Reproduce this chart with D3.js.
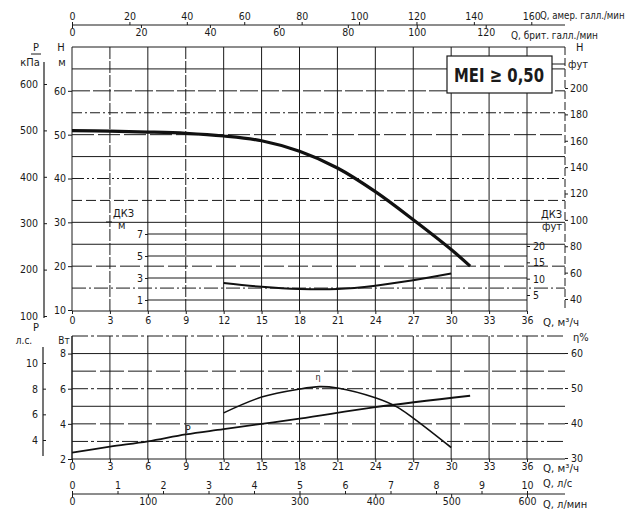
<!DOCTYPE html>
<html><head><meta charset="utf-8">
<script src="https://cdn.jsdelivr.net/npm/d3@7"></script>
<style>
body{margin:0;background:#fff}
text{font-family:"Liberation Sans Narrow","DejaVu Sans Condensed","Liberation Sans",Arial,sans-serif;font-size:11px;fill:#1a1a1a}
</style>
</head><body><svg id="c" width="633" height="510"></svg>
<script>
// ---- data ----
const qTicks = [0,3,6,9,12,15,18,21,24,27,30,33,36];
const usGpmTicks = [0,20,40,60,80,100,120,140,160];
const ukGpmTicks = [0,20,40,60,80,100,120];
const kpaTicks = [100,200,300,400,500,600];
const hTicks = [10,20,30,40,50,60];
const hGrid = [15,20,25,30,35,40,45,50,55,60,65];
const ftTicks = [40,60,80,100,120,140,160,180,200];
const npshMTicks = [1,3,5,7];
const npshFtTicks = [5,10,15,20];
const kwTicks = [2,4,6,8];
const kwGrid = [2,3,4,5,6,7,8,9];
const hpTicks = [4,6,8,10];
const etaTicks = [30,40,50,60];
const lsTicks = [0,1,2,3,4,5,6,7,8,9,10];
const lminTicks = [0,100,200,300,400,500,600];

const qHead = [0,3,6,9,12,15,18,21,24,27,30,31.5];
const hHead = [50.9,50.8,50.6,50.3,49.7,48.6,46.2,42.4,37.0,30.6,23.8,20.0];
const qNpsh = [12,15,18,21,24,27,30];
const npsh = [2.55,2.2,2.0,2.0,2.3,2.8,3.4];
const qEta = [12,15,18,19.6,21,24,25.7,27,30];
const eta = [42.9,47.4,49.7,50.4,50.0,47.2,44.6,41.4,33.0];
const qPow = [0,3,6,9,12,18,24,31.5];
const pow = [2.36,2.7,3.0,3.4,3.7,4.3,4.95,5.6];

// ---- scales ----
const x = d3.scaleLinear([0,36],[72,527]);
const xUS = d3.scaleLinear([0,160],[72,x(160/4.403)]);
const xUK = d3.scaleLinear([0,120],[72,x(120/3.666)]);
const xLs = d3.scaleLinear([0,10],[72,527]);
const xLmin = d3.scaleLinear([0,600],[72,527]);
const yH = d3.scaleLinear([10,70],[310,47]);
const yKpa = d3.scaleLinear([100,600],[316,84]);
const yFt = d3.scaleLinear([40,200],[299,88]);
const yNm = d3.scaleLinear([1,7],[300,234]);
const yNft = d3.scaleLinear([5,20],[295,246]);
const yKw = d3.scaleLinear([2,9],[459,336]);
const yHp = d3.scaleLinear([4,10],[440,363]);
const yEta = d3.scaleLinear([30,60],[458,353]);
const fmt = d3.format("~g");

const svg = d3.select("#c");
const g = svg.append("g");
const ln = (x1,y1,x2,y2,dash,w) => g.append("line").attr("x1",x1).attr("y1",y1).attr("x2",x2).attr("y2",y2)
  .attr("stroke","#1a1a1a").attr("stroke-width",w||1).attr("stroke-dasharray",dash||null);
const tx = (s,xx,yy,anchor,extra) => { const t=g.append("text").attr("x",xx).attr("y",yy).attr("text-anchor",anchor||"start").text(s); if(extra) extra(t); return t; };
const styleAxis = a => { a.select(".domain").remove(); a.selectAll("text").style("font-size","10.5px").attr("fill","#1a1a1a"); a.selectAll("line").attr("stroke","#1a1a1a"); a.attr("font-family",null).attr("font-size",null); };

const dashes = ["14,3,2,3","20,4","", "", "10,4","12,3,2,3,2,3","","22,4","10,3,2,3","18,3",""];

// ---- upper chart grid ----
qTicks.forEach(q => ln(x(q),47,x(q),311, q%6===3 && q<12 ? "12,2":null));
hGrid.forEach((h,i) => ln(72,yH(h),565,yH(h),dashes[i%dashes.length]||null));
npshMTicks.forEach(n => ln(148,yNm(n),527,yNm(n)));
ln(72,47,565,47);
ln(72,311,527,311);
ln(565,47,565,311,"8,3");

// axes upper
const axH = g.append("g").attr("transform","translate(72,0)").call(d3.axisLeft(yH).tickValues(hTicks).tickFormat(fmt).tickSize(4).tickPadding(2));
const axKpa = g.append("g").attr("transform","translate(44,0)").call(d3.axisLeft(yKpa).tickValues(kpaTicks).tickFormat(fmt).tickSize(-3).tickPadding(6));
ln(44,62,44,318,null,1.2);
const axFt = g.append("g").attr("transform","translate(565,0)").call(d3.axisRight(yFt).tickValues(ftTicks).tickFormat(fmt).tickSize(3).tickPadding(2));
const axNm = g.append("g").attr("transform","translate(148,0)").call(d3.axisLeft(yNm).tickValues(npshMTicks).tickFormat(fmt).tickSize(3).tickPadding(2));
const axNft = g.append("g").attr("transform","translate(527,0)").call(d3.axisRight(yNft).tickValues(npshFtTicks).tickFormat(fmt).tickSize(3).tickPadding(3));
const axQ1 = g.append("g").attr("transform","translate(0,311)").call(d3.axisBottom(x).tickValues(qTicks).tickFormat(fmt).tickSize(3).tickPadding(3));
[axH,axKpa,axFt,axNm,axNft,axQ1].forEach(styleAxis);

tx("P",36,51,"middle"); ln(31,54,41,54);
tx("кПа",30,66,"middle");
tx("Н",61,51,"middle");
tx("м",62,66,"middle");
tx("Н",576,51,"start");
tx("фут",568,68,"start"); ln(552,64,565,64);
tx("ДКЗ",113,217,"start"); tx("м",118,229,"start");
ln(106,222,112,222);
tx("ДКЗ",562,218,"end"); tx("фут",562,230,"end");
tx("Q, м³/ч",543,326,"start", t=>t.attr("textLength",36).attr("lengthAdjust","spacingAndGlyphs"));

// MEI box
g.append("rect").attr("x",447).attr("y",56).attr("width",105).attr("height",37).attr("fill","#fff").attr("stroke","#1a1a1a").attr("stroke-width",1.2);
tx("MEI ≥ 0,50",499,82,"middle", t=>t.style("font-size","20px").style("font-weight","bold").attr("textLength",90).attr("lengthAdjust","spacingAndGlyphs"));

// curves upper
const lineHead = d3.line().x((d,i)=>x(qHead[i])).y(d=>yH(d)).curve(d3.curveCatmullRom);
g.append("path").attr("d",lineHead(hHead)).attr("fill","none").attr("stroke","#111").attr("stroke-width",3.2);
const lineN = d3.line().x((d,i)=>x(qNpsh[i])).y(d=>yNm(d)).curve(d3.curveCatmullRom);
g.append("path").attr("d",lineN(npsh)).attr("fill","none").attr("stroke","#111").attr("stroke-width",2);

// ---- top axes ----
ln(72,25,565,25);
const axUS = g.append("g").attr("transform","translate(0,25)").call(d3.axisTop(xUS).tickValues(usGpmTicks).tickFormat(fmt).tickSize(3).tickPadding(2));
const axUK = g.append("g").attr("transform","translate(0,25)").call(d3.axisBottom(xUK).tickValues(ukGpmTicks).tickFormat(fmt).tickSize(3).tickPadding(1));
[axUS,axUK].forEach(styleAxis);
tx("Q, амер. галл./мин",540,19,"start", t=>t.style("font-size","9.6px"));
tx("Q, брит. галл./мин",511,39,"start", t=>t.style("font-size","10px"));

// ---- lower chart ----
qTicks.forEach(q => ln(x(q),336,x(q),459));
kwGrid.forEach((k,i) => ln(72,yKw(k),565,yKw(k), i%3===1 ? "16,3,3,3" : (i%3===2 ? "24,4" : null)));
ln(72,336,72,459);
const axKw = g.append("g").attr("transform","translate(72,0)").call(d3.axisLeft(yKw).tickValues(kwTicks).tickFormat(fmt).tickSize(4).tickPadding(2));
const axHp = g.append("g").attr("transform","translate(43,0)").call(d3.axisLeft(yHp).tickValues(hpTicks).tickFormat(fmt).tickSize(-3).tickPadding(5));
ln(43,347,43,456,null,1.2);
const axEta = g.append("g").attr("transform","translate(565,0)").call(d3.axisRight(yEta).tickValues(etaTicks).tickFormat(fmt).tickSize(3).tickPadding(3));
const axQ2 = g.append("g").attr("transform","translate(0,459)").call(d3.axisBottom(x).tickValues(qTicks).tickFormat(fmt).tickSize(3).tickPadding(1));
[axKw,axHp,axEta,axQ2].forEach(styleAxis);
tx("P",36,331,"middle");
tx("л.с.",24,344,"middle", t=>t.style("font-size","10px"));
tx("Вт",64,344,"middle", t=>t.style("font-size","10px"));
tx("η%",573,341,"start");
tx("Q, м³/ч",543,472,"start", t=>t.attr("textLength",36).attr("lengthAdjust","spacingAndGlyphs"));

const lineEta = d3.line().x((d,i)=>x(qEta[i])).y(d=>yEta(d)).curve(d3.curveCatmullRom);
g.append("path").attr("d",lineEta(eta)).attr("fill","none").attr("stroke","#111").attr("stroke-width",1.6);
const linePow = d3.line().x((d,i)=>x(qPow[i])).y(d=>yKw(d)).curve(d3.curveCatmullRom);
g.append("path").attr("d",linePow(pow)).attr("fill","none").attr("stroke","#111").attr("stroke-width",1.8);
tx("η",318,380,"middle", t=>t.style("font-size","9px"));
tx("P",188,433,"middle", t=>t.style("font-size","10px"));

// ---- bottom axes ----
ln(72,494,565,494);
const axLs = g.append("g").attr("transform","translate(0,494)").call(d3.axisTop(xLs).tickValues(lsTicks).tickFormat(fmt).tickSize(3).tickPadding(2));
const axLm = g.append("g").attr("transform","translate(0,494)").call(d3.axisBottom(xLmin).tickValues(lminTicks).tickFormat(fmt).tickSize(3).tickPadding(1));
[axLs,axLm].forEach(styleAxis);
tx("Q, л/с",543,487,"start");
tx("Q, л/мин",543,508,"start");
</script>
</body></html>
